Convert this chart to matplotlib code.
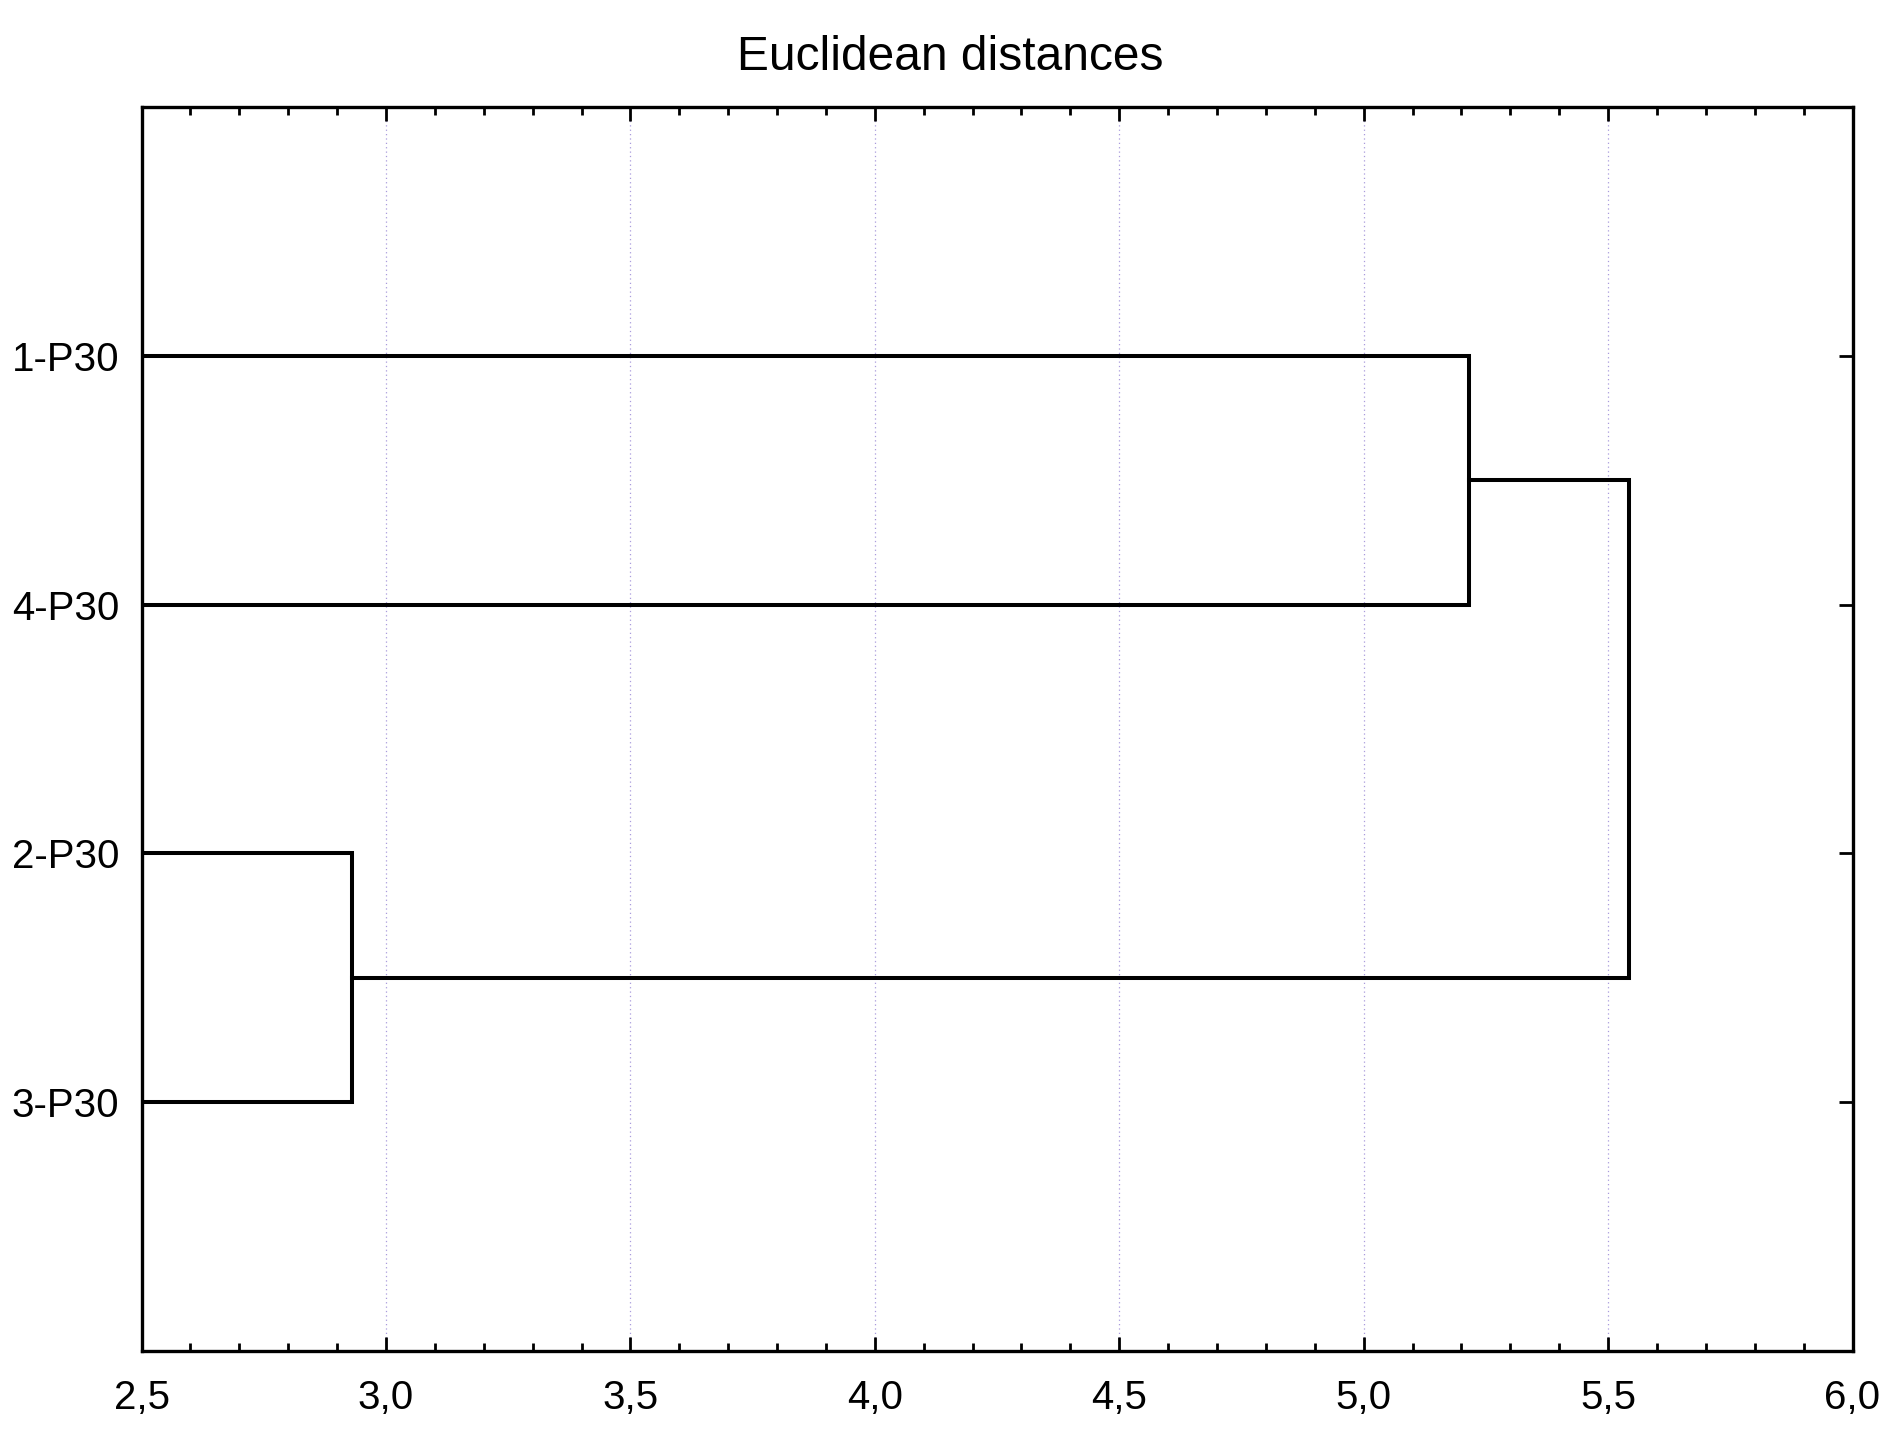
import matplotlib.pyplot as plt
from matplotlib.ticker import MultipleLocator, FuncFormatter

plt.rcParams['font.family'] = ['Liberation Sans', 'DejaVu Sans']

# leaves from top to bottom
leaves = ["1-P30", "4-P30", "2-P30", "3-P30"]
# linkage: (left member, right member, distance)
pair_a = ("1-P30", "4-P30", 5.215)
pair_b = ("2-P30", "3-P30", 2.930)
final_dist = 5.543

pos = {name: i + 1 for i, name in enumerate(leaves)}

fig = plt.figure(figsize=(19, 14.31), dpi=100)
ax = fig.add_axes([0.0745, 0.0559, 0.9005, 0.8693])

lw = 2.9
mids = []
for a, b, d in (pair_a, pair_b):
    ya, yb = pos[a], pos[b]
    ax.plot([0, d, d, 0], [ya, ya, yb, yb], color="black", lw=lw,
            solid_joinstyle="miter")
    mids.append(((ya + yb) / 2, d))
(y1, d1), (y2, d2) = mids
ax.plot([d1, final_dist, final_dist, d2], [y1, y1, y2, y2], color="black",
        lw=lw, solid_joinstyle="miter")

ax.set_xlim(2.5, 6.0)
ax.set_ylim(len(leaves) + 1, 0)
ax.set_yticks(list(pos.values()))
ax.set_yticklabels(leaves)

ax.xaxis.set_major_locator(MultipleLocator(0.5))
ax.xaxis.set_minor_locator(MultipleLocator(0.1))
ax.xaxis.set_major_formatter(FuncFormatter(lambda v, p: f"{v:.1f}".replace(".", ",")))

ax.tick_params(axis="both", which="major", direction="in", length=10, width=2,
               labelsize=29, top=True, right=True, color="black")
ax.tick_params(axis="x", which="minor", direction="in", length=6, width=2,
               top=True)
ax.tick_params(axis="x", pad=20)
ax.tick_params(axis="y", pad=16)

for s in ax.spines.values():
    s.set_linewidth(2.4)

ax.grid(axis="x", which="major", color="#a99bdc", linestyle=(0, (1, 2.5)),
        linewidth=0.9)
ax.set_axisbelow(True)

fig.text(0.5, 0.951, "Euclidean distances", ha="center", va="baseline",
         fontsize=34.5)

fig.savefig("out.png", dpi=100, facecolor="white")
